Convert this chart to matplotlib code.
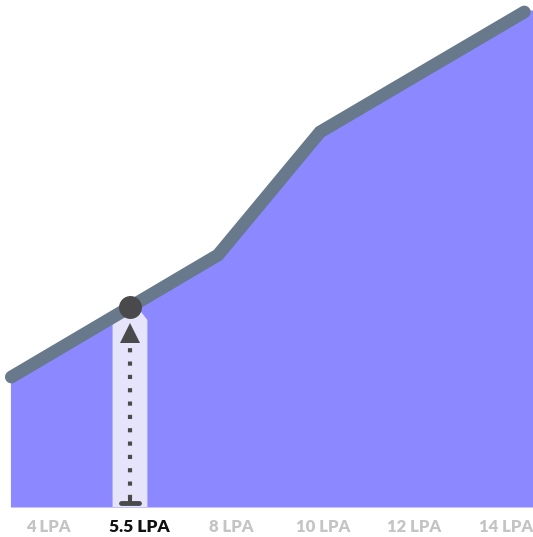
import matplotlib.pyplot as plt
from matplotlib.patches import Polygon

# salary curve (x in label-slot units, y in chart units)
curve_x = [-0.40, 0.895, 1.856, 2.97, 5.2]
curve_y = [130, 200, 252, 375, 495]
fill_x = [-0.41, 0.895, 1.856, 2.97, 5.22]
fill_y = [128, 200, 252, 375, 497]

tick_labels = ["4 LPA", "5.5 LPA", "8 LPA", "10 LPA", "12 LPA", "14 LPA"]
highlight = 1
marker_x = 0.895
marker_y = 200

LINE_COLOR = "#67798a"
FILL_COLOR = "#8c88ff"
BAND_COLOR = "#e6e4fa"
DARK = "#4a4a4c"

fig = plt.figure(figsize=(5.33, 5.37), dpi=100)
ax = fig.add_axes([0, 30 / 537, 1, 507 / 537])

ax.fill_between(fill_x + [5.30], fill_y + [497], 0, color=FILL_COLOR, lw=0, zorder=1)

# highlight band behind the arrow
w = 0.19
band = Polygon([(marker_x - w, 0), (marker_x - w, 187), (marker_x - 0.08, 200),
                (marker_x + 0.08, 200), (marker_x + w, 187), (marker_x + w, 0)],
               closed=True, color=BAND_COLOR, lw=0, zorder=2)
ax.add_patch(band)

ax.plot(curve_x, curve_y, color=LINE_COLOR, lw=9.2, solid_capstyle="round",
        solid_joinstyle="miter", zorder=3)

# dotted arrow up to the point
ax.plot([marker_x, marker_x], [8, 160], color=DARK, lw=3,
        linestyle=(0, (1, 2.2)), dash_capstyle="butt", zorder=4)
ax.plot([marker_x], [174], marker="^", color=DARK, markersize=15, mew=0, zorder=4)
ax.plot([marker_x - 0.1, marker_x + 0.1], [4, 4], color=DARK, lw=3.5,
        solid_capstyle="round", zorder=4)
ax.plot([marker_x], [7], marker="s", color=DARK, markersize=3, mew=0, zorder=4)

ax.plot([marker_x], [marker_y], marker="o", color=DARK, markersize=16.5, mew=0, zorder=5)

ax.set_xlim(-0.524, 5.295)
ax.set_ylim(0, 507)
ax.set_xticks(range(len(tick_labels)))
ax.set_xticklabels(tick_labels, fontfamily="Lato", fontweight="heavy", fontsize=12)
for i, t in enumerate(ax.get_xticklabels()):
    t.set_color("#111111" if i == highlight else "#c4c4c4")
    if i == highlight:
        t.set_fontsize(12.5)
ax.tick_params(axis="x", length=0, pad=9)
ax.set_yticks([])
for s in ax.spines.values():
    s.set_visible(False)

fig.savefig("out.png", dpi=100)
